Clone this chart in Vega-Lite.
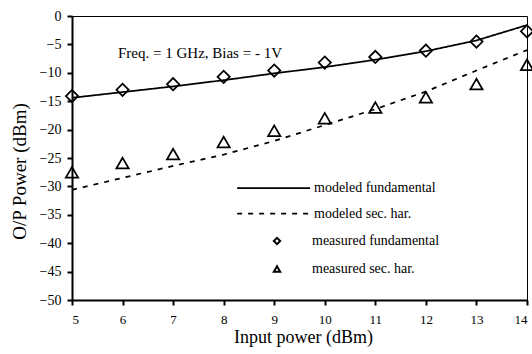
{
  "$schema": "https://vega.github.io/schema/vega-lite/v6.json",
  "width": 455,
  "height": 284,
  "autosize": {"type": "none"},
  "padding": {"left": 72, "top": 16, "right": 5, "bottom": 54},
  "background": "white",
  "config": {
    "view": {"stroke": "black", "strokeWidth": 1},
    "font": "Liberation Serif",
    "axis": {"grid": false, "domainColor": "black", "domainWidth": 2, "tickColor": "black", "tickWidth": 2, "labelColor": "black", "titleColor": "black", "labelFont": "Liberation Serif", "titleFont": "Liberation Serif", "titleFontWeight": "normal", "labelOverlap": false},
    "legend": {"labelFont": "Liberation Serif", "labelColor": "black"}
  },
  "datasets": {
    "modeled": [
      {"x": 5, "y": -14.4, "model": "modeled fundamental"},
      {"x": 6, "y": -13.4, "model": "modeled fundamental"},
      {"x": 7, "y": -12.4, "model": "modeled fundamental"},
      {"x": 8, "y": -11.3, "model": "modeled fundamental"},
      {"x": 9, "y": -10.1, "model": "modeled fundamental"},
      {"x": 10, "y": -9.0, "model": "modeled fundamental"},
      {"x": 11, "y": -7.7, "model": "modeled fundamental"},
      {"x": 12, "y": -6.2, "model": "modeled fundamental"},
      {"x": 13, "y": -4.3, "model": "modeled fundamental"},
      {"x": 14, "y": -1.6, "model": "modeled fundamental"},
      {"x": 5, "y": -30.6, "model": "modeled sec. har."},
      {"x": 6, "y": -28.5, "model": "modeled sec. har."},
      {"x": 7, "y": -26.4, "model": "modeled sec. har."},
      {"x": 8, "y": -24.4, "model": "modeled sec. har."},
      {"x": 9, "y": -22.0, "model": "modeled sec. har."},
      {"x": 10, "y": -19.2, "model": "modeled sec. har."},
      {"x": 11, "y": -16.4, "model": "modeled sec. har."},
      {"x": 12, "y": -13.3, "model": "modeled sec. har."},
      {"x": 13, "y": -9.6, "model": "modeled sec. har."},
      {"x": 14, "y": -6.0, "model": "modeled sec. har."}
    ],
    "measured": [
      {"x": 5, "y": -14.1, "measure": "measured fundamental"},
      {"x": 6, "y": -13.0, "measure": "measured fundamental"},
      {"x": 7, "y": -12.0, "measure": "measured fundamental"},
      {"x": 8, "y": -10.7, "measure": "measured fundamental"},
      {"x": 9, "y": -9.6, "measure": "measured fundamental"},
      {"x": 10, "y": -8.2, "measure": "measured fundamental"},
      {"x": 11, "y": -7.2, "measure": "measured fundamental"},
      {"x": 12, "y": -6.1, "measure": "measured fundamental"},
      {"x": 13, "y": -4.5, "measure": "measured fundamental"},
      {"x": 14, "y": -2.7, "measure": "measured fundamental"},
      {"x": 5, "y": -27.5, "measure": "measured sec. har."},
      {"x": 6, "y": -25.9, "measure": "measured sec. har."},
      {"x": 7, "y": -24.3, "measure": "measured sec. har."},
      {"x": 8, "y": -22.2, "measure": "measured sec. har."},
      {"x": 9, "y": -20.2, "measure": "measured sec. har."},
      {"x": 10, "y": -18.0, "measure": "measured sec. har."},
      {"x": 11, "y": -16.1, "measure": "measured sec. har."},
      {"x": 12, "y": -14.3, "measure": "measured sec. har."},
      {"x": 13, "y": -12.0, "measure": "measured sec. har."},
      {"x": 14, "y": -8.6, "measure": "measured sec. har."}
    ],
    "note": [
      {"label": "Freq. = 1 GHz,  Bias = - 1V"}
    ]
  },
  "layer": [
    {
      "data": {"name": "modeled"},
      "mark": {"type": "line", "color": "black", "strokeWidth": 1.75, "clip": false},
      "encoding": {
        "x": {
          "field": "x", "type": "quantitative",
          "scale": {"domain": [5, 14], "nice": false, "zero": false},
          "axis": {"values": [5, 6, 7, 8, 9, 10, 11, 12, 13, 14], "title": "Input power (dBm)", "titleFontSize": 18, "titleBaseline": "alphabetic", "titleX": 231, "titleY": 42, "labelFontSize": 13, "labelPadding": 8, "labelOverlap": false, "tickSize": 5, "encode": {"ticks": {"update": {"y": {"value": -5}, "y2": {"value": 5}}}}}
        },
        "y": {
          "field": "y", "type": "quantitative",
          "scale": {"domain": [-50, 0], "nice": false, "zero": false},
          "axis": {"values": [-50, -45, -40, -35, -30, -25, -20, -15, -10, -5, 0], "title": "O/P Power (dBm)", "titleFontSize": 19, "titleBaseline": "alphabetic", "titleAngle": -90, "titleX": -47, "titleY": 155, "labelFontSize": 14, "labelPadding": 6, "labelOverlap": false, "tickSize": 5, "encode": {"ticks": {"update": {"x": {"value": 5}, "x2": {"value": -5}}}}}
        },
        "strokeDash": {
          "field": "model", "type": "nominal",
          "scale": {"domain": ["modeled fundamental", "modeled sec. har."], "range": [[1, 0], [5, 6]]},
          "legend": {
            "title": null, "orient": "none", "legendX": 219, "legendY": 162,
            "symbolType": "M-7,0H1", "symbolSize": 333, "symbolStrokeWidth": 1.75, "symbolStrokeColor": "black",
            "labelOffset": 3, "labelFontSize": 14, "labelFont": "Liberation Serif", "rowPadding": 8.5, "padding": 0
          }
        }
      }
    },
    {
      "data": {"name": "measured"},
      "mark": {"type": "point", "filled": false, "color": "black", "strokeWidth": 1.75, "size": 150, "opacity": 1, "clip": false},
      "encoding": {
        "x": {
          "field": "x", "type": "quantitative",
          "scale": {"domain": [5, 14], "nice": false, "zero": false},
          "axis": {"values": [5, 6, 7, 8, 9, 10, 11, 12, 13, 14], "title": "Input power (dBm)", "titleFontSize": 18, "titleBaseline": "alphabetic", "titleX": 231, "titleY": 42, "labelFontSize": 13, "labelPadding": 8, "labelOverlap": false, "tickSize": 5, "encode": {"ticks": {"update": {"y": {"value": -5}, "y2": {"value": 5}}}}}
        },
        "y": {
          "field": "y", "type": "quantitative",
          "scale": {"domain": [-50, 0], "nice": false, "zero": false},
          "axis": {"values": [-50, -45, -40, -35, -30, -25, -20, -15, -10, -5, 0], "title": "O/P Power (dBm)", "titleFontSize": 19, "titleBaseline": "alphabetic", "titleAngle": -90, "titleX": -47, "titleY": 155, "labelFontSize": 14, "labelPadding": 6, "labelOverlap": false, "tickSize": 5, "encode": {"ticks": {"update": {"x": {"value": 5}, "x2": {"value": -5}}}}}
        },
        "shape": {
          "field": "measure", "type": "nominal",
          "scale": {"domain": ["measured fundamental", "measured sec. har."], "range": ["diamond", "triangle-up"]},
          "legend": {
            "title": null, "orient": "none", "legendX": 198, "legendY": 218,
            "symbolSize": 40, "symbolStrokeWidth": 2, "symbolStrokeColor": "black", "symbolFillColor": "white",
            "labelOffset": 28, "labelFontSize": 14, "labelFont": "Liberation Serif", "rowPadding": 13, "padding": 0
          }
        }
      }
    },
    {
      "data": {"name": "note"},
      "mark": {"type": "text", "align": "left", "baseline": "middle", "fontSize": 15, "font": "Liberation Serif", "color": "black"},
      "encoding": {
        "text": {"field": "label", "type": "nominal"},
        "x": {
          "datum": 5.91, "type": "quantitative",
          "scale": {"domain": [5, 14], "nice": false, "zero": false},
          "axis": {"values": [5, 6, 7, 8, 9, 10, 11, 12, 13, 14], "title": "Input power (dBm)", "titleFontSize": 18, "titleBaseline": "alphabetic", "titleX": 231, "titleY": 42, "labelFontSize": 13, "labelPadding": 8, "labelOverlap": false, "tickSize": 5, "encode": {"ticks": {"update": {"y": {"value": -5}, "y2": {"value": 5}}}}}
        },
        "y": {
          "datum": -6.5, "type": "quantitative",
          "scale": {"domain": [-50, 0], "nice": false, "zero": false},
          "axis": {"values": [-50, -45, -40, -35, -30, -25, -20, -15, -10, -5, 0], "title": "O/P Power (dBm)", "titleFontSize": 19, "titleBaseline": "alphabetic", "titleAngle": -90, "titleX": -47, "titleY": 155, "labelFontSize": 14, "labelPadding": 6, "labelOverlap": false, "tickSize": 5, "encode": {"ticks": {"update": {"x": {"value": 5}, "x2": {"value": -5}}}}}
        }
      }
    }
  ]
}
